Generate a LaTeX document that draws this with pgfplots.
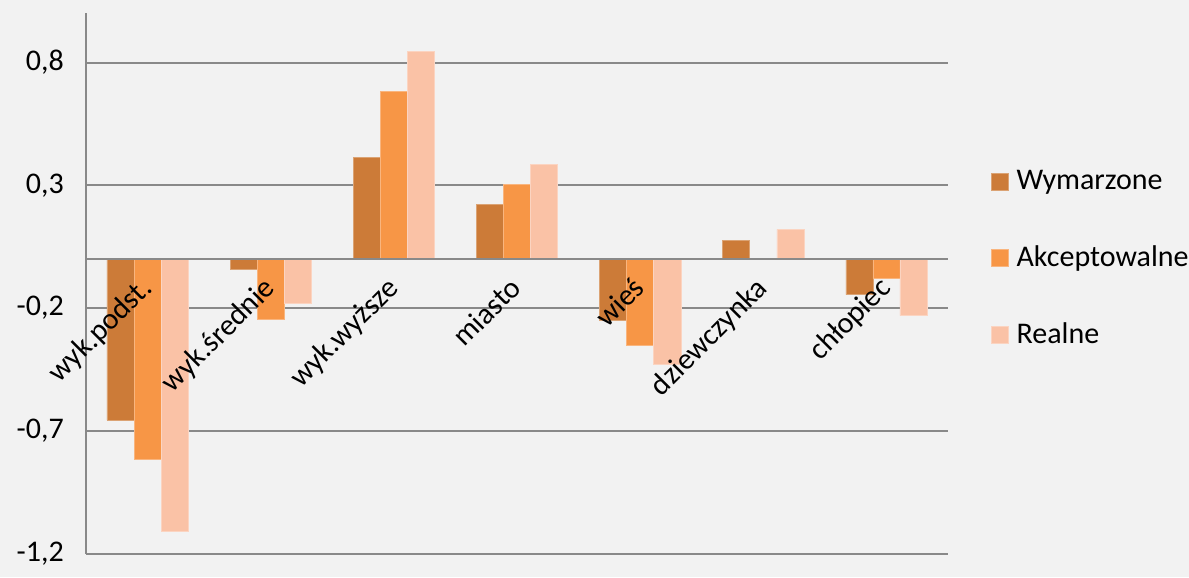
\documentclass[border=0pt]{standalone}
\usepackage{fontspec}
\setmainfont{Carlito}
\usepackage{pgfplots}
\pgfplotsset{compat=1.18}
\definecolor{bg}{HTML}{F2F2F2}
\definecolor{gridc}{HTML}{898989}
\definecolor{cW}{HTML}{CC7B38}
\definecolor{cA}{HTML}{F79646}
\definecolor{cR}{HTML}{FAC2A6}
\begin{document}
\begin{tikzpicture}
\begin{axis}[
  set layers,
  every axis plot/.append style={on layer=axis ticks},
  clip=false,
  scale only axis, width=646.5pt, height=405.1pt,
  xmin=0.5, xmax=7.5, ymin=-1.2, ymax=1.0,
  axis x line=middle, axis y line=left,
  axis line style={-, draw=gridc, line width=1.4pt},
  ybar=0pt, bar width=0.22,
  ytick={-1.2,-0.7,-0.2,0.3,0.8},
  yticklabels={{-1,2},{-0,7},{-0,2},{0,3},{0,8}},
  xtick={1,...,7},
  xticklabels={wyk.podst.,wyk.średnie,wyk.wyższe,miasto,wieś,dziewczynka,chłopiec},
  major tick length=0pt,
  ymajorgrids, grid style={draw=gridc, line width=1.4pt},
  tick label style={font=\fontsize{22.5}{27}\selectfont, text=black},
  yticklabel style={inner sep=0pt, xshift=-16.5pt},
  xticklabel style={inner sep=0pt, anchor=base east, xshift=4.5pt, yshift=-23pt, rotate=45},
  legend image code/.code={\fill[#1] (0pt,0pt) rectangle (12.75pt,12.75pt);},
  legend cell align=left,
  legend style={at={(1.0499,0.5455)}, anchor=west, draw=none, fill=none,
    inner sep=0pt, outer sep=0pt, font=\fontsize{22.5}{27}\selectfont,
    row sep=37pt, column sep=6pt,
    nodes={inner sep=0pt, text height=16pt, text depth=4.5pt, anchor=base west}},
]
\begin{pgfonlayer}{axis background}
\fill[bg] (rel axis cs:-0.09977,-0.04333) rectangle (rel axis cs:1.27958,1.02499);
\end{pgfonlayer}
% Wymarzone
\addplot[fill=cW, draw=cW!70!white, line width=0.4pt] coordinates {
  (1,-0.656) (2,-0.041) (3,0.415) (4,0.224) (5,-0.249) (6,0.077) (7,-0.145)};
% Akceptowalne
\addplot[fill=cA, draw=cA!70!white, line width=0.4pt] coordinates {
  (1,-0.815) (2,-0.247) (3,0.683) (4,0.305) (5,-0.352) (6,0) (7,-0.080)};
% Realne
\addplot[fill=cR, draw=cR!70!white, line width=0.4pt] coordinates {
  (1,-1.108) (2,-0.182) (3,0.846) (4,0.384) (5,-0.430) (6,0.121) (7,-0.231)};
\legend{Wymarzone,Akceptowalne,Realne}
\end{axis}
\end{tikzpicture}
\end{document}
